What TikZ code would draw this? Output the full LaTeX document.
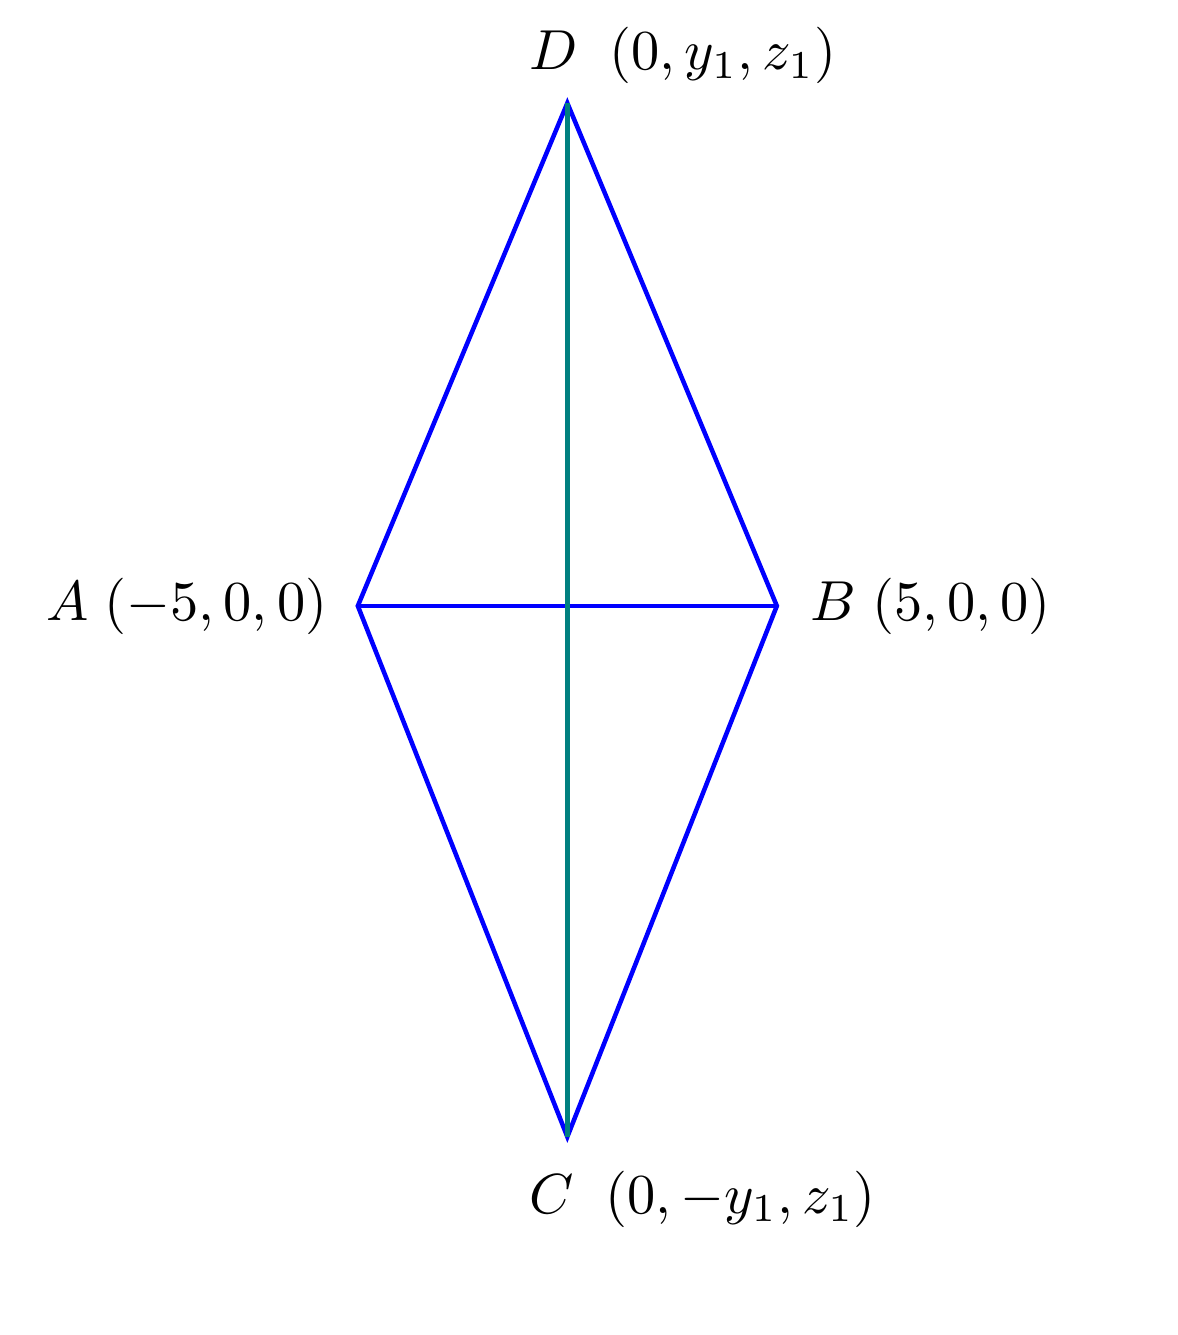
\documentclass[tikz,border=0pt]{standalone}

\begin{document}
\begin{tikzpicture}[x=0.261cm, y=0.261cm, line width=0.8pt]
	\useasboundingbox (-13.54,-17.40) rectangle (14.57,14.46);

	\coordinate (A) at (-5,0);
	\coordinate (B) at (5,0);
	\coordinate (D) at (0,12);
	\coordinate (C) at (0,-12.67);

	\node (lA) [left=1.7pt] at (A) {\(A\;(-5,0,0)\)};
	\node (lB) [right=2.3pt] at (B) {\(B\;(5,0,0)\)};
	\node (lD) [above=-0.3pt, xshift=20.5pt] at (D) {\(D\;\;(0,y_1,z_1)\)};
	\node (lC) [below=2.3pt, xshift=24pt] at (C) {\(C\;\;(0,-y_1,z_1)\)};

	\draw [blue] (A) -- (D) -- (B) -- (C) -- cycle;
	\draw [blue] (A) -- (B);
	\draw [teal] (D) -- (C);
\end{tikzpicture}
\end{document}
